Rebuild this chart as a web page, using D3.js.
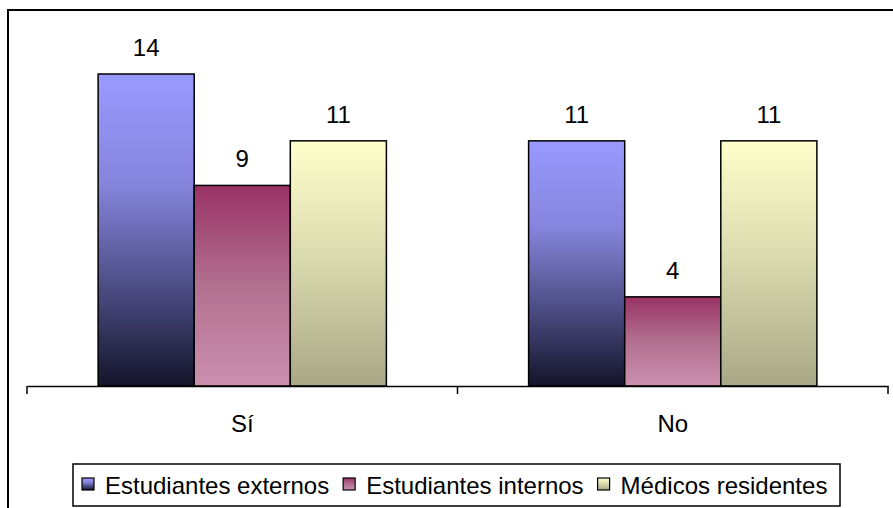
<!DOCTYPE html>
<html>
<head>
<meta charset="utf-8">
<script src="https://cdn.jsdelivr.net/npm/d3@7"></script>
<style>
  html, body { margin: 0; padding: 0; background: #fff; }
  svg { display: block; font-family: "Liberation Sans", Arial, sans-serif; }
</style>
</head>
<body>
<svg id="chart" width="893" height="508"></svg>
<script>
const categories = ["Sí", "No"];
const seriesNames = ["Estudiantes externos", "Estudiantes internos", "Médicos residentes"];
const externos = [14, 11];
const internos = [9, 4];
const residentes = [11, 11];
const seriesValues = [externos, internos, residentes];

const gradients = [
  [["0%", "#9999ff"], ["35%", "#8585dd"], ["70%", "#4a4a80"], ["100%", "#14142a"]],
  [["0%", "#993366"], ["50%", "#b2708f"], ["100%", "#cb90ae"]],
  [["0%", "#ffffcc"], ["50%", "#d8d8ad"], ["100%", "#a8a886"]]
];

const svg = d3.select("#chart");
const defs = svg.append("defs");
gradients.forEach((stops, i) => {
  const g = defs.append("linearGradient").attr("id", "grad" + i)
    .attr("x1", 0).attr("y1", 0).attr("x2", 0).attr("y2", 1);
  stops.forEach(s => g.append("stop").attr("offset", s[0]).attr("stop-color", s[1]));
});

// outer frame (cut on right and bottom)
svg.append("rect").attr("x", 8).attr("y", 10).attr("width", 900).attr("height", 520)
  .attr("fill", "none").attr("stroke", "#000").attr("stroke-width", 2);

const baseY = 386;
const x = d3.scaleBand().domain(categories).range([27, 888]).padding(0);
const xs = d3.scaleBand().domain(seriesNames).range([0, x.bandwidth()])
  .paddingInner(0).paddingOuter(0.74);
const y = d3.scaleLinear().domain([0, 16]).range([baseY, baseY - 16 * 22.286]);

const fontSize = 24;

const groups = svg.append("g").selectAll("g").data(categories).join("g")
  .attr("transform", d => `translate(${x(d)},0)`);

groups.each(function(cat, ci) {
  const g = d3.select(this);
  seriesNames.forEach((s, si) => {
    const v = seriesValues[si][ci];
    g.append("rect")
      .attr("x", xs(s)).attr("y", y(v))
      .attr("width", xs.bandwidth()).attr("height", y(0) - y(v))
      .attr("fill", `url(#grad${si})`)
      .attr("stroke", "#000").attr("stroke-width", 1.5);
    g.append("text")
      .attr("x", xs(s) + xs.bandwidth() / 2).attr("y", y(v) - 18)
      .attr("text-anchor", "middle").attr("font-size", fontSize).attr("fill", "#000")
      .text(v);
  });
});

// x axis
const axis = d3.axisBottom(x).tickSize(0).tickPadding(0);
const axG = svg.append("g").attr("transform", `translate(0,${baseY})`).call(axis);
axG.select(".domain").attr("stroke", "#000").attr("stroke-width", 1.5);
axG.selectAll(".tick text").attr("font-size", fontSize).attr("fill", "#000")
  .attr("font-family", "Liberation Sans, Arial, sans-serif")
  .attr("dy", 0).attr("y", 46);
// boundary ticks
const bounds = [x.range()[0], ...categories.slice(1).map(c => x(c)), x.range()[1]];
axG.selectAll("line.bound").data(bounds).join("line").attr("class", "bound")
  .attr("x1", d => d).attr("x2", d => d).attr("y1", 0).attr("y2", 8)
  .attr("stroke", "#000").attr("stroke-width", 1.5);

// legend
const leg = svg.append("g");
leg.append("rect").attr("x", 73).attr("y", 464).attr("width", 767).attr("height", 42)
  .attr("fill", "#fff").attr("stroke", "#000").attr("stroke-width", 1.5);
let lx = 82;
seriesNames.forEach((s, i) => {
  leg.append("rect").attr("x", lx).attr("y", 478).attr("width", 12).attr("height", 12)
    .attr("fill", `url(#grad${i})`).attr("stroke", "#000").attr("stroke-width", 1.2);
  const t = leg.append("text").attr("x", lx + 23).attr("y", 494)
    .attr("font-size", 24).attr("fill", "#000").text(s);
  lx += 23 + t.node().getComputedTextLength() + 14;
});
</script>
</body>
</html>
